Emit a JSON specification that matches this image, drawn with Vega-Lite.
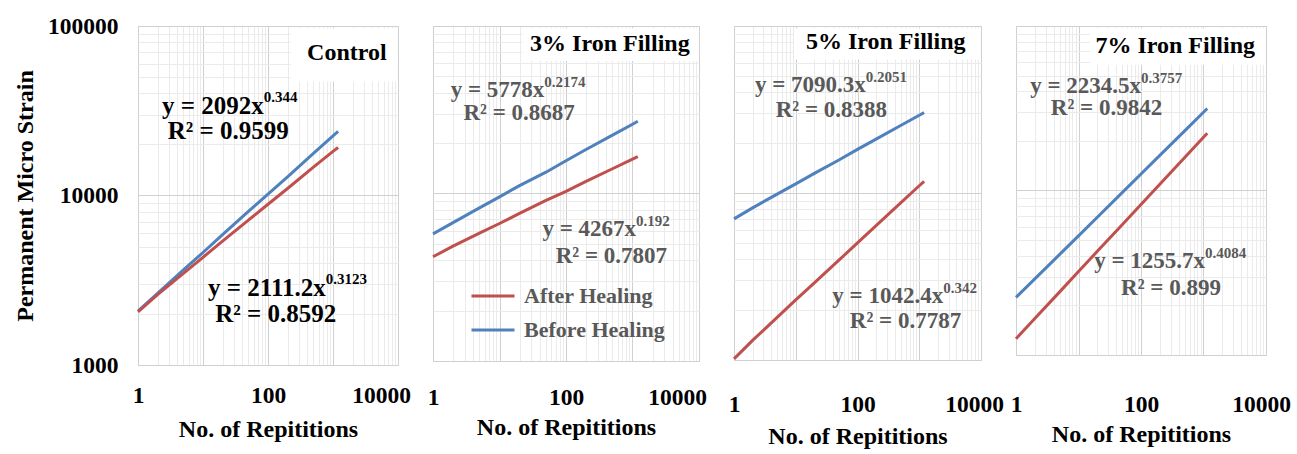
{
"$schema": "https://vega.github.io/schema/vega-lite/v6.json",
"background": "white",
"padding": {"left": 13, "top": 13, "right": 5, "bottom": 5},
"config": {
  "font": "Liberation Serif",
  "view": {"stroke": "#d0d0d0"},
  "axis": {"grid": true, "ticks": false, "domain": false, "labelFontSize": 23.5, "labelFontWeight": "bold", "labelColor": "#000", "titleFontSize": 24, "titleFontWeight": "bold", "titleColor": "#000", "labelOverlap": false, "labelFlush": false, "gridWidth": 1}
},
"datasets": {
  "series": [
    {"panel":"Control","healing":"Before Healing","n":1,"strain":2080},
    {"panel":"Control","healing":"Before Healing","n":2,"strain":2650},
    {"panel":"Control","healing":"Before Healing","n":5,"strain":3640},
    {"panel":"Control","healing":"Before Healing","n":10,"strain":4610},
    {"panel":"Control","healing":"Before Healing","n":20,"strain":5880},
    {"panel":"Control","healing":"Before Healing","n":50,"strain":8060},
    {"panel":"Control","healing":"Before Healing","n":100,"strain":10200},
    {"panel":"Control","healing":"Before Healing","n":200,"strain":12900},
    {"panel":"Control","healing":"Before Healing","n":500,"strain":17700},
    {"panel":"Control","healing":"Before Healing","n":1000,"strain":22500},
    {"panel":"Control","healing":"Before Healing","n":1200,"strain":23900},
    {"panel":"Control","healing":"After Healing","n":1,"strain":2060},
    {"panel":"Control","healing":"After Healing","n":2,"strain":2600},
    {"panel":"Control","healing":"After Healing","n":5,"strain":3470},
    {"panel":"Control","healing":"After Healing","n":10,"strain":4320},
    {"panel":"Control","healing":"After Healing","n":20,"strain":5380},
    {"panel":"Control","healing":"After Healing","n":50,"strain":7150},
    {"panel":"Control","healing":"After Healing","n":100,"strain":8880},
    {"panel":"Control","healing":"After Healing","n":200,"strain":11000},
    {"panel":"Control","healing":"After Healing","n":500,"strain":14700},
    {"panel":"Control","healing":"After Healing","n":1000,"strain":18200},
    {"panel":"Control","healing":"After Healing","n":1200,"strain":19200},
    {"panel":"3%","healing":"Before Healing","n":1,"strain":5740},
    {"panel":"3%","healing":"Before Healing","n":2,"strain":6700},
    {"panel":"3%","healing":"Before Healing","n":5,"strain":8200},
    {"panel":"3%","healing":"Before Healing","n":10,"strain":9550},
    {"panel":"3%","healing":"Before Healing","n":20,"strain":11150},
    {"panel":"3%","healing":"Before Healing","n":50,"strain":13400},
    {"panel":"3%","healing":"Before Healing","n":100,"strain":15700},
    {"panel":"3%","healing":"Before Healing","n":200,"strain":18300},
    {"panel":"3%","healing":"Before Healing","n":500,"strain":22300},
    {"panel":"3%","healing":"Before Healing","n":1000,"strain":25900},
    {"panel":"3%","healing":"Before Healing","n":1200,"strain":27000},
    {"panel":"3%","healing":"After Healing","n":1,"strain":4190},
    {"panel":"3%","healing":"After Healing","n":2,"strain":4850},
    {"panel":"3%","healing":"After Healing","n":5,"strain":5800},
    {"panel":"3%","healing":"After Healing","n":10,"strain":6620},
    {"panel":"3%","healing":"After Healing","n":20,"strain":7600},
    {"panel":"3%","healing":"After Healing","n":50,"strain":9100},
    {"panel":"3%","healing":"After Healing","n":100,"strain":10300},
    {"panel":"3%","healing":"After Healing","n":200,"strain":11800},
    {"panel":"3%","healing":"After Healing","n":500,"strain":14050},
    {"panel":"3%","healing":"After Healing","n":1000,"strain":16050},
    {"panel":"3%","healing":"After Healing","n":1200,"strain":16600},
    {"panel":"5%","healing":"Before Healing","n":1,"strain":7000},
    {"panel":"5%","healing":"Before Healing","n":2,"strain":8150},
    {"panel":"5%","healing":"Before Healing","n":5,"strain":9850},
    {"panel":"5%","healing":"Before Healing","n":10,"strain":11350},
    {"panel":"5%","healing":"Before Healing","n":20,"strain":13100},
    {"panel":"5%","healing":"Before Healing","n":50,"strain":15750},
    {"panel":"5%","healing":"Before Healing","n":100,"strain":18250},
    {"panel":"5%","healing":"Before Healing","n":200,"strain":21000},
    {"panel":"5%","healing":"Before Healing","n":500,"strain":25350},
    {"panel":"5%","healing":"Before Healing","n":1000,"strain":29200},
    {"panel":"5%","healing":"Before Healing","n":1200,"strain":30300},
    {"panel":"5%","healing":"After Healing","n":1,"strain":1015},
    {"panel":"5%","healing":"After Healing","n":2,"strain":1310},
    {"panel":"5%","healing":"After Healing","n":5,"strain":1800},
    {"panel":"5%","healing":"After Healing","n":10,"strain":2290},
    {"panel":"5%","healing":"After Healing","n":20,"strain":2900},
    {"panel":"5%","healing":"After Healing","n":50,"strain":3960},
    {"panel":"5%","healing":"After Healing","n":100,"strain":5030},
    {"panel":"5%","healing":"After Healing","n":200,"strain":6380},
    {"panel":"5%","healing":"After Healing","n":500,"strain":8720},
    {"panel":"5%","healing":"After Healing","n":1000,"strain":11050},
    {"panel":"5%","healing":"After Healing","n":1200,"strain":11750},
    {"panel":"7%","healing":"Before Healing","n":1,"strain":2240},
    {"panel":"7%","healing":"Before Healing","n":2,"strain":2900},
    {"panel":"7%","healing":"Before Healing","n":5,"strain":4090},
    {"panel":"7%","healing":"Before Healing","n":10,"strain":5300},
    {"panel":"7%","healing":"Before Healing","n":20,"strain":6880},
    {"panel":"7%","healing":"Before Healing","n":50,"strain":9700},
    {"panel":"7%","healing":"Before Healing","n":100,"strain":12600},
    {"panel":"7%","healing":"Before Healing","n":200,"strain":16350},
    {"panel":"7%","healing":"Before Healing","n":500,"strain":23050},
    {"panel":"7%","healing":"Before Healing","n":1000,"strain":29900},
    {"panel":"7%","healing":"Before Healing","n":1150,"strain":31500},
    {"panel":"7%","healing":"After Healing","n":1,"strain":1256},
    {"panel":"7%","healing":"After Healing","n":2,"strain":1665},
    {"panel":"7%","healing":"After Healing","n":5,"strain":2420},
    {"panel":"7%","healing":"After Healing","n":10,"strain":3215},
    {"panel":"7%","healing":"After Healing","n":20,"strain":4270},
    {"panel":"7%","healing":"After Healing","n":50,"strain":6200},
    {"panel":"7%","healing":"After Healing","n":100,"strain":8230},
    {"panel":"7%","healing":"After Healing","n":200,"strain":10920},
    {"panel":"7%","healing":"After Healing","n":500,"strain":15880},
    {"panel":"7%","healing":"After Healing","n":1000,"strain":21050},
    {"panel":"7%","healing":"After Healing","n":1150,"strain":22300}
  ],
  "boxes": [
    {"panel":"Control","n":224,"n2":9700,"strain":47100,"strain2":97000},
    {"panel":"3%","n":22.3,"n2":9700,"strain":61800,"strain2":97000},
    {"panel":"5%","n":9.4,"n2":9700,"strain":63000,"strain2":97000},
    {"panel":"7%","n":15.3,"n2":9700,"strain":58200,"strain2":97000}
  ],
  "ann": [
    {"panel":"Control","kind":"title","text":"Control","n":6690,"strain":69500},
    {"panel":"Control","kind":"main","text":"y = 2092x","n":86.4,"strain":33600},
    {"panel":"Control","kind":"sup","text":"0.344","n":86.4,"strain":33600},
    {"panel":"Control","kind":"r2","text":"R² = 0.9599","n":24.5,"strain":24000},
    {"panel":"Control","kind":"main","text":"y = 2111.2x","n":774,"strain":2860},
    {"panel":"Control","kind":"sup","text":"0.3123","n":774,"strain":2860},
    {"panel":"Control","kind":"r2","text":"R² = 0.8592","n":131.5,"strain":1990},
    {"panel":"3%","kind":"title","text":"3% Iron Filling","n":7250,"strain":78100},
    {"panel":"3%","kind":"main","text":"y = 5778x","n":47.2,"strain":41500},
    {"panel":"3%","kind":"sup","text":"0.2174","n":47.2,"strain":41500},
    {"panel":"3%","kind":"r2","text":"R² = 0.8687","n":19.7,"strain":30250},
    {"panel":"3%","kind":"main","text":"y = 4267x","n":1133,"strain":6140},
    {"panel":"3%","kind":"sup","text":"0.192","n":1133,"strain":6140},
    {"panel":"3%","kind":"r2","text":"R² = 0.7807","n":481,"strain":4240},
    {"panel":"5%","kind":"title","text":"5% Iron Filling","n":5610,"strain":80000},
    {"panel":"5%","kind":"main","text":"y = 7090.3x","n":136,"strain":44400},
    {"panel":"5%","kind":"sup","text":"0.2051","n":136,"strain":44400},
    {"panel":"5%","kind":"r2","text":"R² = 0.8388","n":37.7,"strain":31300},
    {"panel":"5%","kind":"main","text":"y = 1042.4x","n":2445,"strain":2415},
    {"panel":"5%","kind":"sup","text":"0.342","n":2445,"strain":2415},
    {"panel":"5%","kind":"r2","text":"R² = 0.7787","n":598,"strain":1702},
    {"panel":"7%","kind":"title","text":"7% Iron Filling","n":6670,"strain":75300},
    {"panel":"7%","kind":"main","text":"y = 2234.5x","n":100,"strain":43200},
    {"panel":"7%","kind":"sup","text":"0.3757","n":100,"strain":43200},
    {"panel":"7%","kind":"r2","text":"R² = 0.9842","n":28.1,"strain":31600},
    {"panel":"7%","kind":"main","text":"y = 1255.7x","n":1057,"strain":3750},
    {"panel":"7%","kind":"sup","text":"0.4084","n":1057,"strain":3750},
    {"panel":"7%","kind":"r2","text":"R² = 0.899","n":302,"strain":2555}
  ]
},
"bounds": "flush",
"spacing": 35,
"hconcat": [
  {
    "width": 260, "height": 339,
    "layer": [
      {"data": {"name": "series"}, "transform": [{"filter": "datum.panel === 'Control'"}],
       "mark": {"type": "line", "strokeWidth": 3},
       "encoding": {
         "x": {"field": "n", "type": "quantitative", "scale": {"type": "log", "domain": [1, 10000], "nice": false},
               "axis": {"values": [1,2,3,4,5,6,7,8,9,10,20,30,40,50,60,70,80,90,100,200,300,400,500,600,700,800,900,1000,2000,3000,4000,5000,6000,7000,8000,9000,10000],
                        "labelExpr": "datum.value == 1 ? '1' : datum.value == 100 ? '100' : datum.value == 10000 ? '10000' : ''",
                        "labelOffset": {"condition": {"test": "datum.value == 10000", "value": -17}, "value": 0},
                        "gridColor": {"condition": {"test": "indexof([1,10,100,1000,10000], datum.value) >= 0", "value": "#d0d0d0"}, "value": "#ebebeb"},
                        "labelPadding": 18, "title": "No. of Repititions", "titlePadding": 11}},
         "y": {"field": "strain", "type": "quantitative", "scale": {"type": "log", "domain": [1000, 100000], "nice": false},
               "axis": {"values": [1000,2000,3000,4000,5000,6000,7000,8000,9000,10000,20000,30000,40000,50000,60000,70000,80000,90000,100000],
                        "labelExpr": "datum.value == 1000 ? '1000' : datum.value == 10000 ? '10000' : datum.value == 100000 ? '100000' : ''",
                        "gridColor": {"condition": {"test": "indexof([1000,10000,100000], datum.value) >= 0", "value": "#d0d0d0"}, "value": "#ebebeb"},
                        "labelPadding": 20, "title": "Permanent Micro Strain", "titlePadding": 10}},
         "color": {"field": "healing", "type": "nominal", "scale": {"domain": ["After Healing", "Before Healing"], "range": ["#C0504D", "#4F81BD"]},
                   "legend": {"orient": "none", "legendX": 332, "legendY": 247, "title": null, "symbolType": "stroke", "symbolSize": 1849, "symbolStrokeWidth": 3, "labelFontSize": 22, "labelFontWeight": "bold", "labelColor": "#595959", "rowPadding": -22, "labelOffset": 8}}
       }},
      {"data": {"name": "boxes"}, "transform": [{"filter": "datum.panel === 'Control'"}],
       "mark": {"type": "rect", "fill": "white"},
       "encoding": {"x": {"field": "n", "type": "quantitative"}, "x2": {"field": "n2"}, "y": {"field": "strain", "type": "quantitative"}, "y2": {"field": "strain2"}}},
      {"data": {"name": "ann"}, "transform": [{"filter": "datum.panel === 'Control' && datum.kind === 'title'"}],
       "mark": {"type": "text", "align": "right", "baseline": "middle", "fontSize": 24, "fontWeight": "bold", "color": "#000"},
       "encoding": {"x": {"field": "n", "type": "quantitative"}, "y": {"field": "strain", "type": "quantitative"}, "text": {"field": "text"}}},
      {"data": {"name": "ann"}, "transform": [{"filter": "datum.panel === 'Control' && datum.kind === 'main'"}],
       "mark": {"type": "text", "align": "right", "baseline": "middle", "fontSize": 25, "fontWeight": "bold", "color": "#000"},
       "encoding": {"x": {"field": "n", "type": "quantitative"}, "y": {"field": "strain", "type": "quantitative"}, "text": {"field": "text"}}},
      {"data": {"name": "ann"}, "transform": [{"filter": "datum.panel === 'Control' && datum.kind === 'sup'"}],
       "mark": {"type": "text", "align": "left", "baseline": "middle", "dy": -9, "fontSize": 15, "fontWeight": "bold", "color": "#000"},
       "encoding": {"x": {"field": "n", "type": "quantitative"}, "y": {"field": "strain", "type": "quantitative"}, "text": {"field": "text"}}},
      {"data": {"name": "ann"}, "transform": [{"filter": "datum.panel === 'Control' && datum.kind === 'r2'"}],
       "mark": {"type": "text", "align": "center", "baseline": "middle", "fontSize": 25, "fontWeight": "bold", "color": "#000"},
       "encoding": {"x": {"field": "n", "type": "quantitative"}, "y": {"field": "strain", "type": "quantitative"}, "text": {"field": "text"}}}
    ]
  },
  {
    "width": 266, "height": 335,
    "layer": [
      {"data": {"name": "series"}, "transform": [{"filter": "datum.panel === '3%'"}],
       "mark": {"type": "line", "strokeWidth": 3},
       "encoding": {
         "x": {"field": "n", "type": "quantitative", "scale": {"type": "log", "domain": [1, 10000], "nice": false},
               "axis": {"values": [1,2,3,4,5,6,7,8,9,10,20,30,40,50,60,70,80,90,100,200,300,400,500,600,700,800,900,1000,2000,3000,4000,5000,6000,7000,8000,9000,10000],
                        "labelExpr": "datum.value == 1 ? '1' : datum.value == 100 ? '100' : datum.value == 10000 ? '10000' : ''",
                        "labelOffset": {"condition": {"test": "datum.value == 10000", "value": -22}, "value": 0},
                        "gridColor": {"condition": {"test": "indexof([1,10,100,1000,10000], datum.value) >= 0", "value": "#d0d0d0"}, "value": "#ebebeb"},
                        "labelPadding": 24, "title": "No. of Repititions", "titlePadding": 7}},
         "y": {"field": "strain", "type": "quantitative", "scale": {"type": "log", "domain": [1000, 100000], "nice": false},
               "axis": {"values": [1000,2000,3000,4000,5000,6000,7000,8000,9000,10000,20000,30000,40000,50000,60000,70000,80000,90000,100000],
                        "labels": false, "title": null,
                        "gridColor": {"condition": {"test": "indexof([1000,10000,100000], datum.value) >= 0", "value": "#d0d0d0"}, "value": "#ebebeb"}}},
         "color": {"field": "healing", "type": "nominal", "scale": {"domain": ["After Healing", "Before Healing"], "range": ["#C0504D", "#4F81BD"]},
                   "legend": {"orient": "none", "legendX": 332, "legendY": 247, "title": null, "symbolType": "stroke", "symbolSize": 1849, "symbolStrokeWidth": 3, "labelFontSize": 22, "labelFontWeight": "bold", "labelColor": "#595959", "rowPadding": -22, "labelOffset": 8}}
       }},
      {"data": {"name": "boxes"}, "transform": [{"filter": "datum.panel === '3%'"}],
       "mark": {"type": "rect", "fill": "white"},
       "encoding": {"x": {"field": "n", "type": "quantitative"}, "x2": {"field": "n2"}, "y": {"field": "strain", "type": "quantitative"}, "y2": {"field": "strain2"}}},
      {"data": {"name": "ann"}, "transform": [{"filter": "datum.panel === '3%' && datum.kind === 'title'"}],
       "mark": {"type": "text", "align": "right", "baseline": "middle", "fontSize": 24, "fontWeight": "bold", "color": "#000"},
       "encoding": {"x": {"field": "n", "type": "quantitative"}, "y": {"field": "strain", "type": "quantitative"}, "text": {"field": "text"}}},
      {"data": {"name": "ann"}, "transform": [{"filter": "datum.panel === '3%' && datum.kind === 'main'"}],
       "mark": {"type": "text", "align": "right", "baseline": "middle", "fontSize": 23, "fontWeight": "bold", "color": "#595959"},
       "encoding": {"x": {"field": "n", "type": "quantitative"}, "y": {"field": "strain", "type": "quantitative"}, "text": {"field": "text"}}},
      {"data": {"name": "ann"}, "transform": [{"filter": "datum.panel === '3%' && datum.kind === 'sup'"}],
       "mark": {"type": "text", "align": "left", "baseline": "middle", "dy": -8, "fontSize": 15, "fontWeight": "bold", "color": "#595959"},
       "encoding": {"x": {"field": "n", "type": "quantitative"}, "y": {"field": "strain", "type": "quantitative"}, "text": {"field": "text"}}},
      {"data": {"name": "ann"}, "transform": [{"filter": "datum.panel === '3%' && datum.kind === 'r2'"}],
       "mark": {"type": "text", "align": "center", "baseline": "middle", "fontSize": 23, "fontWeight": "bold", "color": "#595959"},
       "encoding": {"x": {"field": "n", "type": "quantitative"}, "y": {"field": "strain", "type": "quantitative"}, "text": {"field": "text"}}}
    ]
  },
  {
    "width": 247, "height": 334,
    "layer": [
      {"data": {"name": "series"}, "transform": [{"filter": "datum.panel === '5%'"}],
       "mark": {"type": "line", "strokeWidth": 3},
       "encoding": {
         "x": {"field": "n", "type": "quantitative", "scale": {"type": "log", "domain": [1, 10000], "nice": false},
               "axis": {"values": [1,2,3,4,5,6,7,8,9,10,20,30,40,50,60,70,80,90,100,200,300,400,500,600,700,800,900,1000,2000,3000,4000,5000,6000,7000,8000,9000,10000],
                        "labelExpr": "datum.value == 1 ? '1' : datum.value == 100 ? '100' : datum.value == 10000 ? '10000' : ''",
                        "labelOffset": {"condition": {"test": "datum.value == 10000", "value": -7}, "value": 0},
                        "gridColor": {"condition": {"test": "indexof([1,10,100,1000,10000], datum.value) >= 0", "value": "#d0d0d0"}, "value": "#ebebeb"},
                        "labelPadding": 32, "title": "No. of Repititions", "titlePadding": 9}},
         "y": {"field": "strain", "type": "quantitative", "scale": {"type": "log", "domain": [1000, 100000], "nice": false},
               "axis": {"values": [1000,2000,3000,4000,5000,6000,7000,8000,9000,10000,20000,30000,40000,50000,60000,70000,80000,90000,100000],
                        "labels": false, "title": null,
                        "gridColor": {"condition": {"test": "indexof([1000,10000,100000], datum.value) >= 0", "value": "#d0d0d0"}, "value": "#ebebeb"}}},
         "color": {"field": "healing", "type": "nominal", "scale": {"domain": ["After Healing", "Before Healing"], "range": ["#C0504D", "#4F81BD"]},
                   "legend": {"orient": "none", "legendX": 332, "legendY": 247, "title": null, "symbolType": "stroke", "symbolSize": 1849, "symbolStrokeWidth": 3, "labelFontSize": 22, "labelFontWeight": "bold", "labelColor": "#595959", "rowPadding": -22, "labelOffset": 8}}
       }},
      {"data": {"name": "boxes"}, "transform": [{"filter": "datum.panel === '5%'"}],
       "mark": {"type": "rect", "fill": "white"},
       "encoding": {"x": {"field": "n", "type": "quantitative"}, "x2": {"field": "n2"}, "y": {"field": "strain", "type": "quantitative"}, "y2": {"field": "strain2"}}},
      {"data": {"name": "ann"}, "transform": [{"filter": "datum.panel === '5%' && datum.kind === 'title'"}],
       "mark": {"type": "text", "align": "right", "baseline": "middle", "fontSize": 24, "fontWeight": "bold", "color": "#000"},
       "encoding": {"x": {"field": "n", "type": "quantitative"}, "y": {"field": "strain", "type": "quantitative"}, "text": {"field": "text"}}},
      {"data": {"name": "ann"}, "transform": [{"filter": "datum.panel === '5%' && datum.kind === 'main'"}],
       "mark": {"type": "text", "align": "right", "baseline": "middle", "fontSize": 23, "fontWeight": "bold", "color": "#595959"},
       "encoding": {"x": {"field": "n", "type": "quantitative"}, "y": {"field": "strain", "type": "quantitative"}, "text": {"field": "text"}}},
      {"data": {"name": "ann"}, "transform": [{"filter": "datum.panel === '5%' && datum.kind === 'sup'"}],
       "mark": {"type": "text", "align": "left", "baseline": "middle", "dy": -8, "fontSize": 15, "fontWeight": "bold", "color": "#595959"},
       "encoding": {"x": {"field": "n", "type": "quantitative"}, "y": {"field": "strain", "type": "quantitative"}, "text": {"field": "text"}}},
      {"data": {"name": "ann"}, "transform": [{"filter": "datum.panel === '5%' && datum.kind === 'r2'"}],
       "mark": {"type": "text", "align": "center", "baseline": "middle", "fontSize": 23, "fontWeight": "bold", "color": "#595959"},
       "encoding": {"x": {"field": "n", "type": "quantitative"}, "y": {"field": "strain", "type": "quantitative"}, "text": {"field": "text"}}}
    ]
  },
  {
    "width": 250, "height": 329,
    "layer": [
      {"data": {"name": "series"}, "transform": [{"filter": "datum.panel === '7%'"}],
       "mark": {"type": "line", "strokeWidth": 3},
       "encoding": {
         "x": {"field": "n", "type": "quantitative", "scale": {"type": "log", "domain": [1, 10000], "nice": false},
               "axis": {"values": [1,2,3,4,5,6,7,8,9,10,20,30,40,50,60,70,80,90,100,200,300,400,500,600,700,800,900,1000,2000,3000,4000,5000,6000,7000,8000,9000,10000],
                        "labelExpr": "datum.value == 1 ? '1' : datum.value == 100 ? '100' : datum.value == 10000 ? '10000' : ''",
                        "labelOffset": {"condition": {"test": "datum.value == 10000", "value": -5}, "value": 0},
                        "gridColor": {"condition": {"test": "indexof([1,10,100,1000,10000], datum.value) >= 0", "value": "#d0d0d0"}, "value": "#ebebeb"},
                        "labelPadding": 37, "title": "No. of Repititions", "titlePadding": 7}},
         "y": {"field": "strain", "type": "quantitative", "scale": {"type": "log", "domain": [1000, 100000], "nice": false},
               "axis": {"values": [1000,2000,3000,4000,5000,6000,7000,8000,9000,10000,20000,30000,40000,50000,60000,70000,80000,90000,100000],
                        "labels": false, "title": null,
                        "gridColor": {"condition": {"test": "indexof([1000,10000,100000], datum.value) >= 0", "value": "#d0d0d0"}, "value": "#ebebeb"}}},
         "color": {"field": "healing", "type": "nominal", "scale": {"domain": ["After Healing", "Before Healing"], "range": ["#C0504D", "#4F81BD"]},
                   "legend": {"orient": "none", "legendX": 332, "legendY": 247, "title": null, "symbolType": "stroke", "symbolSize": 1849, "symbolStrokeWidth": 3, "labelFontSize": 22, "labelFontWeight": "bold", "labelColor": "#595959", "rowPadding": -22, "labelOffset": 8}}
       }},
      {"data": {"name": "boxes"}, "transform": [{"filter": "datum.panel === '7%'"}],
       "mark": {"type": "rect", "fill": "white"},
       "encoding": {"x": {"field": "n", "type": "quantitative"}, "x2": {"field": "n2"}, "y": {"field": "strain", "type": "quantitative"}, "y2": {"field": "strain2"}}},
      {"data": {"name": "ann"}, "transform": [{"filter": "datum.panel === '7%' && datum.kind === 'title'"}],
       "mark": {"type": "text", "align": "right", "baseline": "middle", "fontSize": 24, "fontWeight": "bold", "color": "#000"},
       "encoding": {"x": {"field": "n", "type": "quantitative"}, "y": {"field": "strain", "type": "quantitative"}, "text": {"field": "text"}}},
      {"data": {"name": "ann"}, "transform": [{"filter": "datum.panel === '7%' && datum.kind === 'main'"}],
       "mark": {"type": "text", "align": "right", "baseline": "middle", "fontSize": 23, "fontWeight": "bold", "color": "#595959"},
       "encoding": {"x": {"field": "n", "type": "quantitative"}, "y": {"field": "strain", "type": "quantitative"}, "text": {"field": "text"}}},
      {"data": {"name": "ann"}, "transform": [{"filter": "datum.panel === '7%' && datum.kind === 'sup'"}],
       "mark": {"type": "text", "align": "left", "baseline": "middle", "dy": -8, "fontSize": 15, "fontWeight": "bold", "color": "#595959"},
       "encoding": {"x": {"field": "n", "type": "quantitative"}, "y": {"field": "strain", "type": "quantitative"}, "text": {"field": "text"}}},
      {"data": {"name": "ann"}, "transform": [{"filter": "datum.panel === '7%' && datum.kind === 'r2'"}],
       "mark": {"type": "text", "align": "center", "baseline": "middle", "fontSize": 23, "fontWeight": "bold", "color": "#595959"},
       "encoding": {"x": {"field": "n", "type": "quantitative"}, "y": {"field": "strain", "type": "quantitative"}, "text": {"field": "text"}}}
    ]
  }
]
}
